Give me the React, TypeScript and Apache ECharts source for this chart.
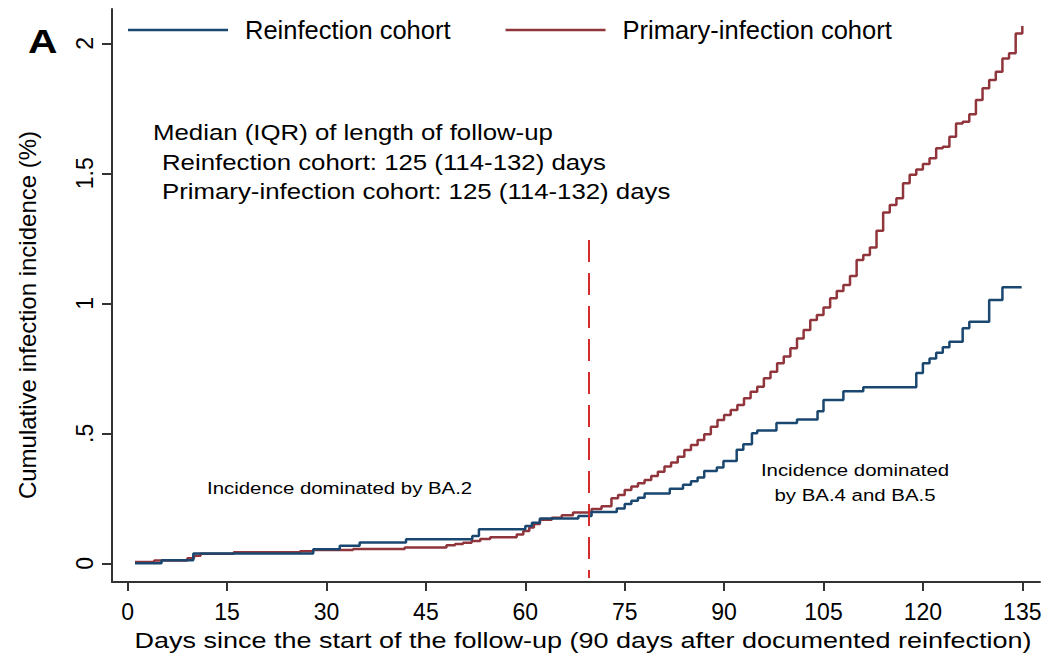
import React, { useEffect, useRef } from "react";
import * as echarts from "echarts";

const FONT = "'Liberation Sans', Arial, Helvetica, sans-serif";

const xTicks = [0, 15, 30, 45, 60, 75, 90, 105, 120, 135];
const yTicks = [0, 0.5, 1, 1.5, 2];

const seriesNames = ["Reinfection cohort", "Primary-infection cohort"];

// Reinfection cohort: day of step, cumulative incidence (%) after the step
const reinfectionDays = [
  1.1, 5.1, 9.9, 28, 32, 35, 42, 52, 53, 60, 61, 62.2, 68, 70, 73.8, 75, 76, 77, 78,
  81.8, 83.8, 85, 86, 87, 88.9, 89.9, 91.9, 92.9, 94.2, 95, 97.9, 101, 104.1, 105, 108,
  111, 119, 120, 121, 122, 123, 124, 126, 127, 130, 132, 134.9,
];
const reinfectionIncidence = [
  0, 0.012, 0.038, 0.054, 0.067, 0.08, 0.092, 0.105, 0.131, 0.143, 0.156, 0.172, 0.182,
  0.197, 0.211, 0.228, 0.241, 0.252, 0.268, 0.287, 0.302, 0.316, 0.33, 0.355, 0.368,
  0.393, 0.437, 0.458, 0.5, 0.511, 0.54, 0.553, 0.585, 0.628, 0.662, 0.677, 0.732, 0.769,
  0.788, 0.81, 0.831, 0.852, 0.904, 0.929, 1.013, 1.062, 1.062,
];

// Primary-infection cohort
const primaryDays = [
  1.1, 4, 9, 10, 11, 16, 26, 28, 34, 41.8, 48.1, 49.4, 50.6, 51.9, 53.2, 54.7, 58.7, 59.7,
  60.6, 61.3, 62.2, 64, 65.5, 67.2, 70, 71.5, 73, 74, 75, 76, 77, 78, 79, 80, 81, 82, 83,
  84, 85, 86, 87, 88, 89, 90, 91, 92, 93, 94, 95, 96, 97, 98, 99, 100, 101, 102, 103, 104,
  105, 106, 107, 108, 109, 110, 111, 112, 113, 114, 115, 116, 117, 118, 119, 120, 121,
  122, 123, 124, 125, 126, 127, 128, 129, 130, 131, 132, 133, 134, 135,
];
const primaryIncidence = [
  0.005, 0.011, 0.019, 0.029, 0.037, 0.042, 0.046, 0.051, 0.055, 0.061, 0.069, 0.074,
  0.079, 0.086, 0.093, 0.1, 0.111, 0.124, 0.138, 0.151, 0.167, 0.175, 0.185, 0.195, 0.209,
  0.219, 0.25, 0.263, 0.282, 0.295, 0.308, 0.32, 0.336, 0.352, 0.372, 0.388, 0.41, 0.436,
  0.455, 0.474, 0.496, 0.525, 0.551, 0.57, 0.59, 0.609, 0.635, 0.66, 0.679, 0.712, 0.737,
  0.769, 0.795, 0.827, 0.865, 0.897, 0.936, 0.955, 0.984, 1.019, 1.047, 1.07, 1.105,
  1.167, 1.186, 1.215, 1.279, 1.349, 1.378, 1.404, 1.462, 1.494, 1.515, 1.536, 1.558,
  1.596, 1.602, 1.641, 1.692, 1.698, 1.727, 1.782, 1.827, 1.859, 1.891, 1.942, 1.962,
  2.038, 2.067,
];

// Vertical dashed reference line (shift from BA.2 to BA.4/BA.5 dominance)
const variantShiftDay = 69.6;
const variantLineRange = [-0.057, 1.243];

const medianLines = [
  "Median (IQR) of length of follow-up",
  "Reinfection cohort: 125 (114-132) days",
  "Primary-infection cohort: 125 (114-132) days",
];

const COLORS = ["#1a476f", "#90353b"];

export default function App() {
  const ref = useRef<HTMLDivElement>(null);

  useEffect(() => {
    document.body.style.margin = "0";
    if (!ref.current) return;
    const chart = echarts.init(ref.current, null, { renderer: "svg" });

    const reinfData = reinfectionDays.map((d, i) => [d, reinfectionIncidence[i]]);
    const primData = primaryDays.map((d, i) => [d, primaryIncidence[i]]);

    const annoText = (
      text: string,
      x: number,
      y: number,
      size: number,
      align = "left",
      weight = "normal"
    ) => ({
      type: "text",
      x,
      y,
      scaleX: 1.2,
      silent: true,
      style: {
        text,
        fontSize: size,
        fontWeight: weight,
        fontFamily: FONT,
        fill: "#000",
        align,
        verticalAlign: "middle",
      },
    });

    chart.setOption({
      animation: false,
      backgroundColor: "#fff",
      grid: { left: 112, right: 8, top: 9, bottom: 85, outerBoundsMode: "none" },
      legend: {
        left: 128,
        top: 17,
        padding: 0,
        icon: "rect",
        itemWidth: 100,
        itemHeight: 2.5,
        itemGap: 55,
        data: seriesNames,
        textStyle: {
          fontSize: 25.5,
          fontFamily: FONT,
          color: "#000",
          padding: [0, 0, 0, 12],
        },
      },
      xAxis: {
        type: "value",
        min: -2.37,
        max: 137.67,
        splitLine: { show: false },
        axisLine: { show: true, onZero: false, lineStyle: { color: "#333", width: 2 } },
        axisTick: {
          show: true,
          customValues: xTicks,
          length: 9,
          lineStyle: { color: "#333", width: 2 },
        },
        axisLabel: {
          customValues: xTicks,
          fontSize: 23,
          fontFamily: FONT,
          color: "#000",
          margin: 18,
        },
      },
      yAxis: {
        type: "value",
        min: -0.072,
        max: 2.132,
        splitLine: { show: false },
        axisLine: { show: true, onZero: false, lineStyle: { color: "#333", width: 2 } },
        axisTick: {
          show: true,
          customValues: yTicks,
          length: 10,
          lineStyle: { color: "#333", width: 2 },
        },
        axisLabel: {
          customValues: yTicks,
          rotate: 90,
          fontSize: 23,
          fontFamily: FONT,
          color: "#000",
          margin: 16,
          formatter: (v: number) => (v > 0 && v < 1 ? String(v).replace(/^0/, "") : String(v)),
        },
      },
      series: [
        {
          name: seriesNames[0],
          type: "line",
          step: "end",
          data: reinfData,
          symbol: "none",
          showSymbol: false,
          z: 3,
          lineStyle: { color: COLORS[0], width: 2.5 },
          itemStyle: { color: COLORS[0] },
        },
        {
          name: seriesNames[1],
          type: "line",
          step: "end",
          data: primData,
          symbol: "none",
          showSymbol: false,
          z: 2,
          lineStyle: { color: COLORS[1], width: 2.5 },
          itemStyle: { color: COLORS[1] },
          markLine: {
            silent: true,
            symbol: ["none", "none"],
            label: { show: false },
            lineStyle: { color: "#d62b2b", width: 2, type: [22, 11] },
            data: [
              [
                { coord: [variantShiftDay, variantLineRange[1]] },
                { coord: [variantShiftDay, variantLineRange[0]] },
              ],
            ],
          },
        },
      ],
      graphic: [
        annoText("A", 28, 41, 34, "left", "bold"),
        {
          type: "text",
          x: 27,
          y: 315,
          rotation: Math.PI / 2,
          silent: true,
          style: {
            text: "Cumulative infection incidence (%)",
            fontSize: 24,
            fontFamily: FONT,
            fill: "#000",
            align: "center",
            verticalAlign: "middle",
          },
        },
        annoText(
          "Days since the start of the follow-up (90 days after documented reinfection)",
          583,
          640,
          22.5,
          "center"
        ),
        annoText(medianLines[0], 153, 133, 21.5),
        annoText(medianLines[1], 162, 163, 21.5),
        annoText(medianLines[2], 162, 192, 21.5),
        annoText("Incidence dominated by BA.2", 207, 488, 17),
        annoText("Incidence dominated", 855, 470, 17, "center"),
        annoText("by BA.4 and BA.5", 855, 495, 17, "center"),
      ],
    });

    return () => chart.dispose();
  }, []);

  return <div ref={ref} style={{ width: 1048, height: 667 }} />;
}
